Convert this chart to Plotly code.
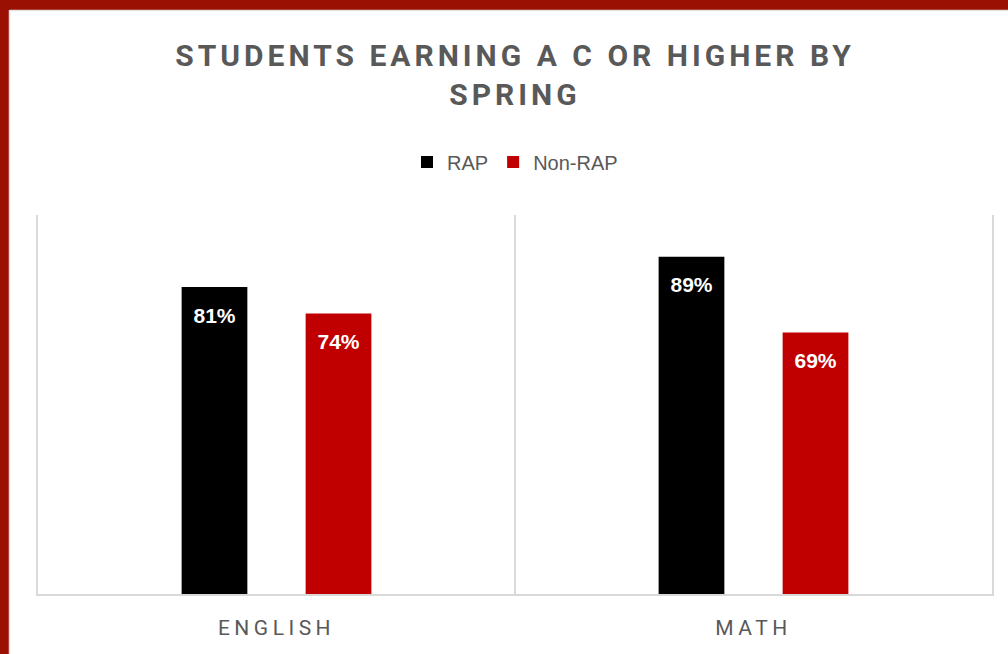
import plotly.graph_objects as go

# Share of students earning a C or higher by spring
subjects = ["ENGLISH", "MATH"]
rap_share = [0.81, 0.89]
non_rap_share = [0.74, 0.69]
series_names = ["RAP", "Non-RAP"]
series_colors = ["#000000", "#C00000"]

title_text = "STUDENTS EARNING A C OR HIGHER BY<br>SPRING"
grey_text = "#595959"
grid_grey = "#D9D9D9"
frame_red = "#9A1103"

fig = go.Figure()

for name, vals, color in zip(series_names, [rap_share, non_rap_share], series_colors):
    fig.add_trace(go.Bar(
        x=subjects, y=vals, name=name, offsetgroup=name,
        marker=dict(color=color, line=dict(width=0)),
        hoverinfo="skip",
    ))

# Value labels just inside the top of each bar, grouped like the bars
for name, vals in zip(series_names, [rap_share, non_rap_share]):
    fig.add_trace(go.Scatter(
        x=subjects, y=vals, mode="markers+text", offsetgroup=name,
        text=[f"{v:.0%}" for v in vals], textposition="bottom center",
        textfont=dict(family="Liberation Sans", size=21, color="white", weight="bold"),
        marker=dict(size=30, opacity=0),
        showlegend=False, hoverinfo="skip",
    ))

fig.update_layout(
    width=1008, height=654,
    margin=dict(l=38, r=16, t=215, b=60, pad=0),
    paper_bgcolor="white", plot_bgcolor="white",
    barmode="group", bargap=0.48, bargroupgap=0.47,
    scattermode="group", scattergap=0.48,
    title=dict(
        text=title_text, x=0.5, xref="paper", xanchor="center",
        y=1 - 66 / 654, yref="container", yanchor="top",
        font=dict(family="Roboto", size=30, color=grey_text, weight="bold"),
    ),
    legend=dict(
        orientation="h", x=0.5, xanchor="center", xref="paper",
        y=1.14, yanchor="middle",
        font=dict(family="Liberation Sans", size=20, color=grey_text),
        itemclick=False, itemdoubleclick=False,
    ),
    xaxis=dict(
        type="category", range=[-0.5, 1.5], tickson="boundaries",
        showgrid=True, gridcolor=grid_grey, gridwidth=1.5,
        showline=True, linecolor=grid_grey, linewidth=1.5,
        ticks="", ticklabelstandoff=14,
        tickfont=dict(family="Roboto", size=21, color=grey_text),
        fixedrange=True,
    ),
    # y axis carries no ticks; its mirrored line closes the plot area at both sides
    yaxis=dict(
        range=[0, 1], showticklabels=False, ticks="", showgrid=False, zeroline=False,
        showline=True, mirror=True, linecolor=grid_grey, linewidth=1.5,
        fixedrange=True,
    ),
    showlegend=True,
    shapes=[
        # red frame along the top and left edges
        dict(type="rect", xref="paper", yref="paper", xsizemode="pixel", ysizemode="pixel",
             xanchor=0, yanchor=1, x0=-38, x1=970, y0=205, y1=216,
             fillcolor=frame_red, line=dict(width=0), layer="above"),
        dict(type="rect", xref="paper", yref="paper", xsizemode="pixel", ysizemode="pixel",
             xanchor=0, yanchor=1, x0=-39, x1=-29, y0=-440, y1=216,
             fillcolor=frame_red, line=dict(width=0), layer="above"),
        dict(type="line", xref="paper", yref="paper", xsizemode="pixel", ysizemode="pixel",
             xanchor=0, yanchor=1, x0=-28.5, x1=-28.5, y0=-440, y1=205,
             line=dict(color="#E2E2E2", width=1.5), layer="above"),
        dict(type="line", xref="paper", yref="paper", xsizemode="pixel", ysizemode="pixel",
             xanchor=0, yanchor=1, x0=-28, x1=970, y0=204.5, y1=204.5,
             line=dict(color="#E2E2E2", width=1.5), layer="above"),
    ],
)

spacing_js = """
var gd = document.getElementById('{plot_id}');
function spaceText() {
  gd.querySelectorAll('.gtitle').forEach(function (e) { e.style.letterSpacing = '4px'; });
  gd.querySelectorAll('.xtick text').forEach(function (e) { e.style.letterSpacing = '4.5px'; });
}
spaceText();
gd.on('plotly_afterplot', spaceText);
"""

fig.write_html("out.html", post_script=spacing_js, config={"displayModeBar": False})
